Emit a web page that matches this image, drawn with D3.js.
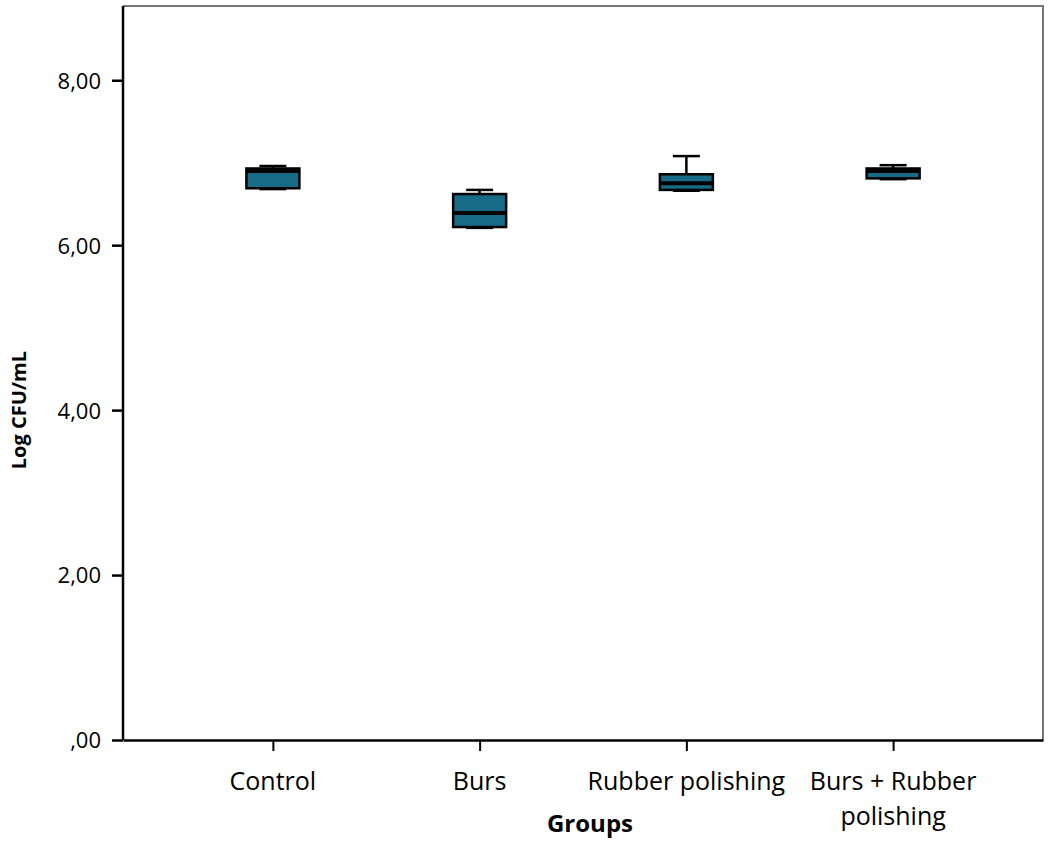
<!DOCTYPE html>
<html>
<head>
<meta charset="utf-8">
<script src="https://cdn.jsdelivr.net/npm/d3@7"></script>
<style>
  body { margin: 0; background: #fff; }
  text { font-family: "Open Sans", "Noto Sans", sans-serif; }
</style>
</head>
<body>
<div id="chart"></div>
<script>
// data
var groups = ["Control", "Burs", "Rubber polishing", "Burs + Rubber polishing"];
var whiskerMin = [6.68, 6.21, 6.66, 6.80];
var q1Values   = [6.69, 6.22, 6.67, 6.81];
var medians    = [6.90, 6.39, 6.75, 6.90];
var q3Values   = [6.93, 6.62, 6.86, 6.93];
var whiskerMax = [6.96, 6.67, 7.08, 6.97];
var yTicks = [0, 2, 4, 6, 8];

var svgWidth = 1050;
var svgHeight = 841;
var margin = { top: 6, right: 7, bottom: 101, left: 123 };
var width = svgWidth - margin.left - margin.right;
var height = svgHeight - margin.top - margin.bottom;

var svg = d3.select("#chart")
  .append("svg")
  .attr("width", svgWidth)
  .attr("height", svgHeight);

var chartGroup = svg.append("g")
  .attr("transform", `translate(${margin.left}, ${margin.top})`);

var xScale = d3.scalePoint()
  .domain(groups)
  .range([0, width])
  .padding(0.725);

var yScale = d3.scaleLinear()
  .domain([0, 8.9])
  .range([height, 0]);

var fmt = function(d) {
  var s = d.toFixed(2).replace(".", ",");
  return s.startsWith("0") ? s.slice(1) : s;
};

// frame: grey top/right
chartGroup.append("path")
  .attr("d", `M0,0H${width}V${height}`)
  .attr("fill", "none")
  .attr("stroke", "#777")
  .attr("stroke-width", 2);

// axes
var leftAxis = d3.axisLeft(yScale).tickValues(yTicks).tickFormat(fmt).tickSize(11).tickSizeOuter(0);
var bottomAxis = d3.axisBottom(xScale).tickSize(11).tickSizeOuter(0);

var yAxisG = chartGroup.append("g").call(leftAxis);
yAxisG.select(".domain").attr("stroke-width", 2.5).attr("d", `M0,0V${height}`);
yAxisG.selectAll(".tick line").attr("stroke-width", 2.5);
yAxisG.selectAll(".tick text")
  .attr("x", -22)
  .attr("dy", "0.36em")
  .style("font-size", "22px")
  .style("font-family", "'Open Sans', sans-serif")
  .attr("fill", "#000");

var xAxisG = chartGroup.append("g")
  .attr("transform", `translate(0, ${height})`)
  .call(bottomAxis);
xAxisG.select(".domain").attr("stroke-width", 2.5);
xAxisG.selectAll(".tick line").attr("stroke-width", 2);
xAxisG.selectAll(".tick text").remove();

// category labels (wrap the long one)
var labelLines = {
  "Control": ["Control"],
  "Burs": ["Burs"],
  "Rubber polishing": ["Rubber polishing"],
  "Burs + Rubber polishing": ["Burs + Rubber", "polishing"]
};
groups.forEach(function(g) {
  var t = chartGroup.append("text")
    .attr("text-anchor", "middle")
    .attr("x", xScale(g))
    .attr("y", height + 50)
    .style("font-size", "25px")
    .attr("fill", "#000");
  labelLines[g].forEach(function(line, i) {
    t.append("tspan")
      .attr("x", xScale(g))
      .attr("dy", i === 0 ? 0 : 35)
      .text(line);
  });
});

// boxes
var boxW = 53;
var capW = 27;
var data = groups.map(function(g, i) {
  return { group: g, min: whiskerMin[i], q1: q1Values[i], med: medians[i], q3: q3Values[i], max: whiskerMax[i] };
});

var boxes = chartGroup.selectAll(".box")
  .data(data)
  .enter()
  .append("g")
  .attr("class", "box");

// whiskers
boxes.append("line")
  .attr("x1", d => xScale(d.group)).attr("x2", d => xScale(d.group))
  .attr("y1", d => yScale(d.max)).attr("y2", d => yScale(d.q3))
  .attr("stroke", "#000").attr("stroke-width", 2.5);
boxes.append("line")
  .attr("x1", d => xScale(d.group)).attr("x2", d => xScale(d.group))
  .attr("y1", d => yScale(d.min)).attr("y2", d => yScale(d.q1))
  .attr("stroke", "#000").attr("stroke-width", 2.5);
boxes.append("line")
  .attr("x1", d => xScale(d.group) - capW / 2).attr("x2", d => xScale(d.group) + capW / 2)
  .attr("y1", d => yScale(d.max)).attr("y2", d => yScale(d.max))
  .attr("stroke", "#000").attr("stroke-width", 2.5);
boxes.append("line")
  .attr("x1", d => xScale(d.group) - capW / 2).attr("x2", d => xScale(d.group) + capW / 2)
  .attr("y1", d => yScale(d.min)).attr("y2", d => yScale(d.min))
  .attr("stroke", "#000").attr("stroke-width", 2.5);

boxes.append("rect")
  .attr("x", d => xScale(d.group) - boxW / 2)
  .attr("y", d => yScale(d.q3))
  .attr("width", boxW)
  .attr("height", d => yScale(d.q1) - yScale(d.q3))
  .attr("fill", "#176b87")
  .attr("stroke", "#000")
  .attr("stroke-width", 2.5);

boxes.append("line")
  .attr("x1", d => xScale(d.group) - boxW / 2).attr("x2", d => xScale(d.group) + boxW / 2)
  .attr("y1", d => yScale(d.med)).attr("y2", d => yScale(d.med))
  .attr("stroke", "#000").attr("stroke-width", 4);

// axis titles
chartGroup.append("text")
  .attr("transform", "rotate(-90)")
  .attr("x", -(yScale(4)))
  .attr("y", -97)
  .attr("text-anchor", "middle")
  .style("font-size", "20px")
  .style("font-weight", "bold")
  .text("Log CFU/mL");

chartGroup.append("text")
  .attr("x", 467)
  .attr("y", height + 92)
  .attr("text-anchor", "middle")
  .style("font-size", "24px")
  .style("font-weight", "bold")
  .text("Groups");
</script>
</body>
</html>
